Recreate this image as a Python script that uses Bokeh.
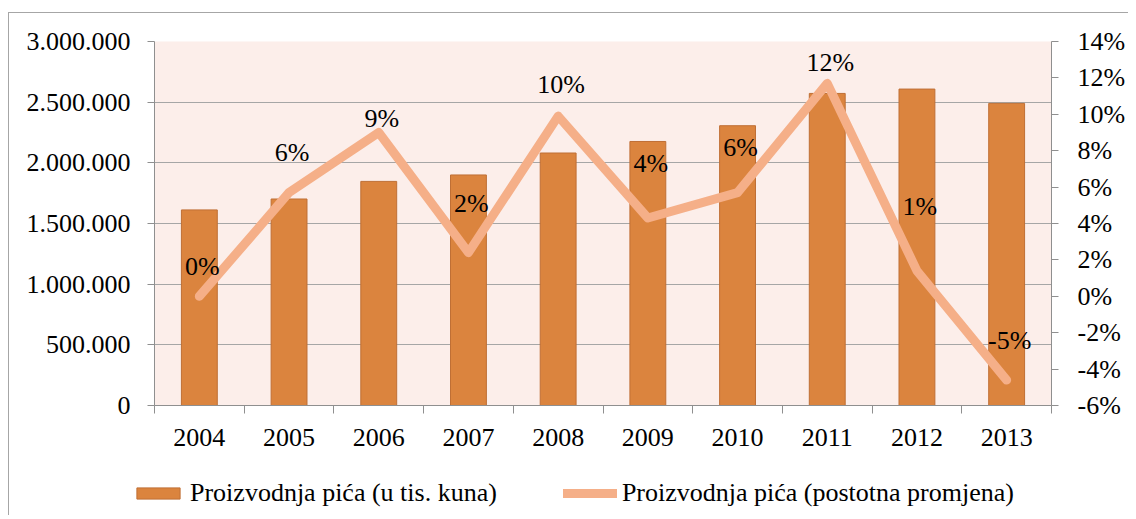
from bokeh.plotting import figure
from bokeh.models import (Range1d, LinearAxis, FixedTicker, NumeralTickFormatter,
                          CustomJSTickFormatter, Legend, LegendItem, ColumnDataSource)
from bokeh.layouts import column, row
from bokeh.core.properties import value
from bokeh.embed import file_html
from bokeh.resources import INLINE
import math

# ---- data ----
years = [2004, 2005, 2006, 2007, 2008, 2009, 2010, 2011, 2012, 2013]
production = [1612000, 1702000, 1847000, 1900000, 2081000,
              2176000, 2306000, 2572000, 2608000, 2490000]
change_pct = [0.0, 5.7, 9.0, 2.4, 9.9, 4.3, 5.7, 11.7, 1.4, -4.6]
left_ticks = [0, 500000, 1000000, 1500000, 2000000, 2500000, 3000000]
right_ticks = [-6, -4, -2, 0, 2, 4, 6, 8, 10, 12, 14]
bar_label = "Proizvodnja pića (u tis. kuna)"
line_label = "Proizvodnja pića (postotna promjena)"

# ---- style ----
label_lift = [30, 40, 14, 49, 32, 55, 45, 21, 64, 40]   # px lift of data labels
FONT = "'Liberation Serif', 'Times New Roman', serif"
FS = "26px"
GRID = "#A6A6A6"
AXIS = "#8F8F8F"
BAR_FILL = "#DB843E"
BAR_LINE = "#BF6F35"
LINE_COL = "#F5AF88"

xs = list(range(1, len(years) + 1))
minor = [x - 0.5 for x in xs] + [xs[-1] + 0.5]
pct_vals = [v / 100 for v in change_pct]

p = figure(width=1119, height=442,
           x_range=Range1d(0.5, len(years) + 0.5),
           y_range=Range1d(left_ticks[0], left_ticks[-1]),
           output_backend="svg", toolbar_location=None,
           min_border_left=145, min_border_right=75,
           min_border_top=28, min_border_bottom=50,
           background_fill_color="#FCEEEA", border_fill_color="white",
           outline_line_color=None)

p.extra_y_ranges = {"pct": Range1d(right_ticks[0] / 100, right_ticks[-1] / 100)}

# x axis
xa = p.xaxis[0]
xa.ticker = FixedTicker(ticks=xs, minor_ticks=minor)
xa.major_label_overrides = {x: str(y) for x, y in zip(xs, years)}
xa.major_tick_out = 0
xa.major_tick_in = 0
xa.minor_tick_out = 8
xa.minor_tick_in = 0
xa.minor_tick_line_color = AXIS
xa.axis_line_color = AXIS
xa.major_label_standoff = 15
xa.major_label_text_font = FONT
xa.major_label_text_font_size = FS
xa.major_label_text_color = "black"

# left axis
ya = p.yaxis[0]
ya.ticker = FixedTicker(ticks=left_ticks)
ya.formatter = CustomJSTickFormatter(
    code="return Math.round(tick).toString().replace(/\\B(?=(\\d{3})+(?!\\d))/g, '.');")
ya.major_tick_out = 7
ya.major_tick_in = 0
ya.minor_tick_out = 0
ya.minor_tick_in = 0
ya.major_tick_line_color = AXIS
ya.axis_line_color = AXIS
ya.major_label_standoff = 17
ya.major_label_text_font = FONT
ya.major_label_text_font_size = FS
ya.major_label_text_color = "black"

# right axis
ra = LinearAxis(y_range_name="pct",
                ticker=FixedTicker(ticks=[t / 100 for t in right_ticks]),
                formatter=NumeralTickFormatter(format="0%"))
ra.major_tick_out = 7
ra.major_tick_in = 0
ra.minor_tick_out = 0
ra.minor_tick_in = 0
ra.major_tick_line_color = AXIS
ra.axis_line_color = AXIS
ra.major_label_standoff = 19
ra.major_label_text_font = FONT
ra.major_label_text_font_size = FS
ra.major_label_text_color = "black"
p.add_layout(ra, "right")

p.xgrid.visible = False
p.ygrid.ticker = FixedTicker(ticks=left_ticks)
p.ygrid.grid_line_color = GRID
p.ygrid.grid_line_width = 1

# bars
p.vbar(x=xs, top=production, width=0.4,
       fill_color=BAR_FILL, line_color=BAR_LINE, line_width=1)

# line
p.line(xs, pct_vals, y_range_name="pct", line_color=LINE_COL,
       line_width=9, line_cap="round", line_join="round")

# data labels
labels = [f"{int(math.floor(v + 0.5))}%" for v in change_pct]
src = ColumnDataSource(dict(x=xs, y=pct_vals, t=labels,
                            dy=[-d for d in label_lift]))
p.text(x="x", y="y", text="t", source=src, y_range_name="pct",
       x_offset=3, y_offset="dy",
       text_font=value(FONT), text_font_size=FS, text_color="black",
       text_align="center", text_baseline="middle")

# ---- legend strip (separate figure below the chart) ----
lg = figure(width=1119, height=60, x_range=Range1d(0, 1), y_range=Range1d(0, 1),
            output_backend="svg", toolbar_location=None,
            x_axis_location=None, y_axis_location=None,
            min_border=0, outline_line_color=None,
            background_fill_color="white", border_fill_color="white")
lg.xgrid.visible = False
lg.ygrid.visible = False
lb = lg.vbar(x=xs, top=production, width=0.4, fill_color=BAR_FILL,
             line_color=BAR_LINE, line_width=1, visible=False)
ll = lg.line(xs, pct_vals, line_color=LINE_COL, line_width=9,
             line_cap="round", visible=False)

legend = Legend(items=[LegendItem(label=bar_label, renderers=[lb]),
                       LegendItem(label=line_label, renderers=[ll])],
                orientation="horizontal", location=(122, 7),
                glyph_width=54, glyph_height=14, label_standoff=5, spacing=66,
                padding=0, margin=0, border_line_color=None,
                background_fill_alpha=0,
                label_text_font=FONT, label_text_font_size=FS,
                label_text_color="black")
lg.add_layout(legend)

layout = column(p, row(lg), margin=(12, 0, 0, 8), spacing=0,
                styles={"border-top": "1px solid #A6A6A6",
                        "border-left": "1px solid #A6A6A6"})

open("out.html", "w").write(file_html(layout, INLINE))
